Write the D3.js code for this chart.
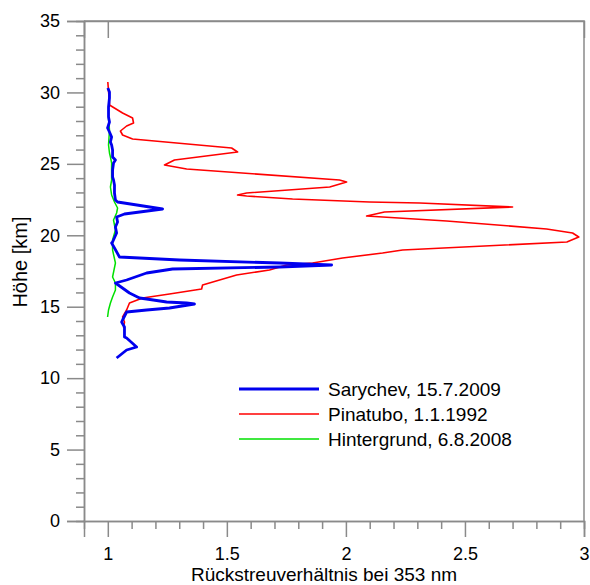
<!DOCTYPE html>
<html>
<head>
<meta charset="utf-8">
<script src="https://cdn.jsdelivr.net/npm/d3@7"></script>
<style>
  body { margin: 0; background: #fff; }
  svg text { font-family: "Liberation Sans", Arial, sans-serif; fill: #000; }
</style>
</head>
<body>
<div id="chart"></div>
<script>
'use strict';

// profiles: [backscatter ratio, height km]
const sarychev = [
  [1.000, 30.31], [1.007, 30.03], [1.007, 29.61], [1.003, 28.98], [1.003, 28.28],
  [1.007, 27.93], [0.999, 27.51], [1.007, 27.23], [1.016, 26.88], [1.011, 26.53],
  [1.016, 26.32], [1.020, 25.97], [1.020, 25.48], [1.032, 25.27], [1.024, 25.06],
  [1.020, 24.57], [1.020, 24.08], [1.024, 23.87], [1.028, 23.52], [1.028, 22.96],
  [1.032, 22.47], [1.041, 22.33], [1.230, 21.84], [1.070, 21.49], [1.037, 21.28],
  [1.041, 20.93], [1.032, 20.58], [1.037, 20.16], [1.020, 19.53], [1.016, 19.46],
  [1.028, 19.11], [1.049, 18.48], [1.301, 18.27], [1.721, 18.06], [1.940, 17.92],
  [1.721, 17.78], [1.272, 17.64], [1.163, 17.36], [1.079, 16.87], [1.032, 16.66],
  [1.091, 15.96], [1.133, 15.61], [1.163, 15.54], [1.247, 15.33], [1.331, 15.26],
  [1.364, 15.19], [1.259, 14.91], [1.163, 14.77], [1.079, 14.63], [1.062, 14.07],
  [1.058, 13.93], [1.070, 13.58], [1.070, 12.88], [1.079, 12.81], [1.121, 12.18],
  [1.079, 11.97], [1.037, 11.41]
]

const pinatubo = [
  [1.000, 30.73], [1.007, 29.26], [1.007, 29.12], [1.062, 28.56], [1.104, 28.21],
  [1.108, 27.86], [1.079, 27.65], [1.053, 27.30], [1.062, 27.02], [1.104, 26.74],
  [1.520, 26.11], [1.545, 25.83], [1.280, 25.27], [1.238, 24.92], [1.331, 24.64],
  [1.973, 23.87], [2.003, 23.73], [1.932, 23.38], [1.583, 22.96], [1.545, 22.82],
  [1.583, 22.75], [1.776, 22.54], [2.099, 22.33], [2.310, 22.26], [2.700, 21.98],
  [2.162, 21.63], [2.087, 21.35], [2.423, 21.00], [2.843, 20.44], [2.952, 20.16],
  [2.978, 19.88], [2.928, 19.53], [2.238, 18.97], [2.154, 18.76], [1.986, 18.41],
  [1.860, 18.06], [1.751, 17.92], [1.679, 17.57], [1.541, 17.22], [1.398, 16.52],
  [1.394, 16.24], [1.259, 15.89], [1.146, 15.61], [1.091, 15.26], [1.079, 14.77],
  [1.062, 14.28], [1.070, 13.93], [1.066, 13.51]
]

const hintergrund = [
  [1.003, 28.20], [1.007, 27.37], [1.003, 26.32], [1.007, 25.76], [1.011, 25.48],
  [1.016, 25.06], [1.016, 24.36], [1.016, 23.87], [1.011, 23.38], [1.016, 22.82],
  [1.028, 22.33], [1.041, 21.91], [1.037, 21.56], [1.024, 21.07], [1.032, 20.37],
  [1.020, 19.67], [1.020, 18.97], [1.032, 18.06], [1.020, 17.08], [1.032, 16.66],
  [1.032, 16.17], [1.020, 15.68], [1.011, 15.26], [1.003, 14.77], [0.999, 14.28]
]

const series_names = ['Sarychev, 15.7.2009', 'Pinatubo, 1.1.1992', 'Hintergrund, 6.8.2008']
const x_major = [1, 1.5, 2, 2.5, 3]
const x_minor = [1.1, 1.2, 1.3, 1.4, 1.6, 1.7, 1.8, 1.9, 2.1, 2.2, 2.3, 2.4, 2.6, 2.7, 2.8, 2.9]
const y_major = [0, 5, 10, 15, 20, 25, 30, 35]
const y_minor = d3.range(0, 36).filter(d => d % 5 !== 0)

const dimensions = {
  width: 590,
  height: 585,
  margin: { top: 21, right: 6, bottom: 64, left: 84 }
}
dimensions.ctrWidth = dimensions.width - dimensions.margin.left - dimensions.margin.right
dimensions.ctrHeight = dimensions.height - dimensions.margin.top - dimensions.margin.bottom

const axis_color = '#8a8a8a'

const svg = d3.select('#chart')
  .append('svg')
  .attr('width', dimensions.width)
  .attr('height', dimensions.height)

const ctr = svg.append('g')
  .attr('transform', `translate(${dimensions.margin.left}, ${dimensions.margin.top})`)

const xScale = d3.scaleLinear()
  .domain([0.9, 3])
  .range([0, dimensions.ctrWidth])

const yScale = d3.scaleLinear()
  .domain([0, 35])
  .range([dimensions.ctrHeight, 0])

// frame (top + right)
ctr.append('path')
  .attr('d', `M0,0H${dimensions.ctrWidth}V${dimensions.ctrHeight}`)
  .attr('fill', 'none')
  .attr('stroke', axis_color)
  .attr('stroke-width', 1.5)

// minor ticks
ctr.append('g')
  .call(d3.axisLeft(yScale).tickValues(y_minor).tickSize(8).tickFormat(''))
  .attr('class', 'axis')
ctr.append('g')
  .attr('transform', `translate(0, ${dimensions.ctrHeight})`)
  .call(d3.axisBottom(xScale).tickValues(x_minor).tickSize(8).tickFormat(''))
  .attr('class', 'axis')

// major ticks + labels
const yAxisGroup = ctr.append('g')
  .call(d3.axisLeft(yScale).tickValues(y_major).tickSize(17).tickPadding(7))
  .attr('class', 'axis')
const xAxisGroup = ctr.append('g')
  .attr('transform', `translate(0, ${dimensions.ctrHeight})`)
  .call(d3.axisBottom(xScale).tickValues(x_major).tickSize(16).tickPadding(10).tickFormat(d3.format('')))
  .attr('class', 'axis')

// single inner tick at top for ratio 1
ctr.append('g')
  .call(d3.axisTop(xScale).tickValues([1]).tickSize(-17).tickFormat(''))
  .attr('class', 'axis')

ctr.selectAll('.axis path.domain')
  .attr('stroke', axis_color)
  .attr('stroke-width', 1.5)
ctr.selectAll('.axis .tick line')
  .attr('stroke', axis_color)
  .attr('stroke-width', 1.5)
ctr.selectAll('.axis text')
  .style('font-size', '18px')
  .attr('fill', '#000')

// axis titles
svg.append('text')
  .attr('x', 324)
  .attr('y', 581)
  .attr('text-anchor', 'middle')
  .style('font-size', '19px')
  .text('Rückstreuverhältnis bei 353 nm')

svg.append('text')
  .attr('transform', 'translate(27, 262) rotate(-90)')
  .attr('text-anchor', 'middle')
  .style('font-size', '20px')
  .text('Höhe [km]')

// profiles
const line = d3.line()
  .x(d => xScale(d[0]))
  .y(d => yScale(d[1]))

const series = [
  { data: hintergrund, color: '#00e000', width: 1.5 },
  { data: pinatubo, color: '#ff0000', width: 1.6 },
  { data: sarychev, color: '#0000ee', width: 2.8 }
]

ctr.selectAll('path.profile')
  .data(series)
  .join('path')
  .attr('class', 'profile')
  .attr('d', d => line(d.data))
  .attr('fill', 'none')
  .attr('stroke', d => d.color)
  .attr('stroke-width', d => d.width)
  .attr('stroke-linejoin', 'round')

// legend
const legend_items = [
  { name: series_names[0], color: '#0000ee', width: 3 },
  { name: series_names[1], color: '#ff0000', width: 1.6 },
  { name: series_names[2], color: '#00e000', width: 1.6 }
]
const legend = svg.append('g')
  .attr('transform', 'translate(239, 389)')
const legend_row = legend.selectAll('g')
  .data(legend_items)
  .join('g')
  .attr('transform', (d, i) => `translate(0, ${i * 25})`)
legend_row.append('line')
  .attr('x1', 0)
  .attr('x2', 80)
  .attr('stroke', d => d.color)
  .attr('stroke-width', d => d.width)
legend_row.append('text')
  .attr('x', 89)
  .attr('y', 7)
  .style('font-size', '19px')
  .text(d => d.name)
</script>
</body>
</html>
